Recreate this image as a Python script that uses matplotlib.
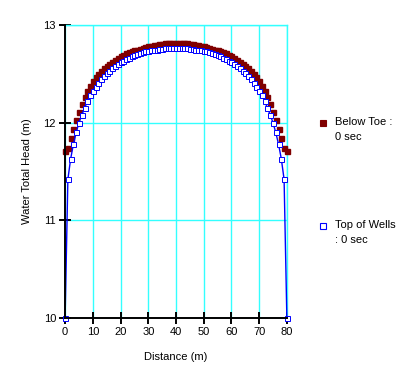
import matplotlib
matplotlib.use('Agg')
import matplotlib.pyplot as plt
from matplotlib.lines import Line2D

plt.rcParams['font.family'] = ['Liberation Sans', 'DejaVu Sans']

# distance along section (m)
distance = list(range(0, 81))

# Below Toe, 0 sec - left half (0..40 m), right half mirrors it
below_toe_half = [11.71, 11.74, 11.84, 11.94, 12.03, 12.11, 12.19, 12.26, 12.33, 12.38,
                  12.43, 12.47, 12.50, 12.53, 12.56, 12.58, 12.60, 12.62, 12.64, 12.66,
                  12.68, 12.69, 12.71, 12.72, 12.73, 12.74, 12.75, 12.76, 12.77, 12.78,
                  12.785, 12.79, 12.795, 12.80, 12.805, 12.81, 12.812, 12.815, 12.817, 12.818,
                  12.82]
# Top of Wells, 0 sec
top_wells_half = [10.00, 11.42, 11.63, 11.78, 11.90, 12.00, 12.08, 12.15, 12.22, 12.28,
                  12.33, 12.37, 12.41, 12.45, 12.48, 12.51, 12.53, 12.56, 12.58, 12.60,
                  12.62, 12.635, 12.65, 12.665, 12.68, 12.69, 12.70, 12.71, 12.72, 12.73,
                  12.735, 12.74, 12.745, 12.75, 12.755, 12.76, 12.762, 12.765, 12.767, 12.768,
                  12.77]

below_toe = below_toe_half + below_toe_half[-2::-1]
top_wells = top_wells_half + top_wells_half[-2::-1]

series_labels = [("Below Toe :", "0 sec"), ("Top of Wells", ": 0 sec")]

fig = plt.figure(figsize=(4.2, 3.81), dpi=100)
ax = fig.add_axes([0.155, 0.1654, 0.528, 0.7687])

grid_c = '#33FFFF'
ax.set_xlim(0, 80)
ax.set_ylim(10, 13)
ax.set_xticks(range(0, 81, 10))
ax.set_yticks([10, 11, 12, 13])
ax.grid(True, color=grid_c, linewidth=1)
ax.set_axisbelow(True)

for s in ['top', 'right']:
    ax.spines[s].set_color(grid_c)
    ax.spines[s].set_linewidth(1)
for s in ['left', 'bottom']:
    ax.spines[s].set_color('black')
    ax.spines[s].set_linewidth(1.4)
    ax.spines[s].set_zorder(4)

ax.tick_params(direction='inout', length=9, width=1.4, labelsize=8, colors='black', pad=2)

ax.plot(distance, below_toe, linestyle='none', marker='s', markersize=3.6,
        color='#800000', markeredgecolor='#800000', clip_on=False, zorder=3)
ax.plot(distance, top_wells, color='#0000FF', linewidth=1, marker='s', markersize=3.6,
        markerfacecolor='white', markeredgecolor='#0000FF', markeredgewidth=0.7,
        clip_on=False, zorder=3.5)

ax.set_xlabel('Distance (m)', fontsize=8, labelpad=11)
ax.set_ylabel('Water Total Head (m)', fontsize=8, labelpad=8)

# legend entries on the right
W, H = 420, 381
leg_y = [123, 226]
styles = [dict(color='#800000', markerfacecolor='#800000', markeredgecolor='#800000'),
          dict(color='#0000FF', markerfacecolor='white', markeredgecolor='#0000FF')]
for (l1, l2), y, st in zip(series_labels, leg_y, styles):
    fig.add_artist(Line2D([323 / W], [1 - y / H], marker='s', markersize=3.8,
                          linestyle='none', markeredgewidth=0.8,
                          transform=fig.transFigure, **st))
    fig.text(335 / W, 1 - (y - 1) / H, l1, fontsize=8, va='center', ha='left')
    fig.text(335 / W, 1 - (y + 14) / H, l2, fontsize=8, va='center', ha='left')

fig.savefig('out.png', dpi=100)
